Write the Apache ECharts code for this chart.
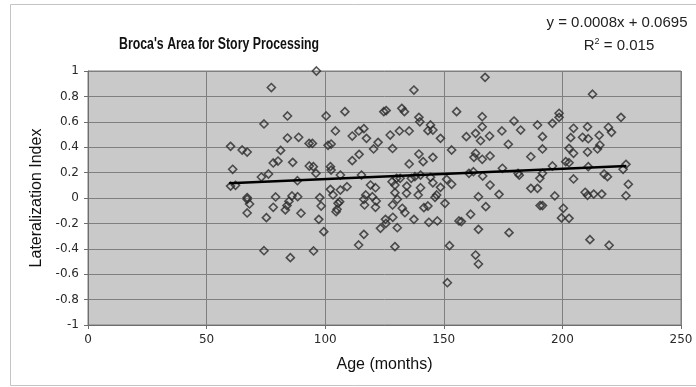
<!DOCTYPE html>
<html>
<head>
<meta charset="utf-8">
<script src="https://cdn.jsdelivr.net/npm/echarts@6/dist/echarts.min.js"></script>
<style>
  html, body { margin: 0; padding: 0; background: #fff; }
  #chart { width: 696px; height: 387px; }
</style>
</head>
<body>
<div id="chart"></div>
<script>
// age (months), lateralization index
const scatterPoints = [
  [77.3,0.87],[84.1,0.646],[74.2,0.583],[84.1,0.472],[88.8,0.478],[60.1,0.407],[65,0.378],[67.1,0.362],
  [81.2,0.375],[78.1,0.276],[80.1,0.291],[86.3,0.281],[61,0.226],[76.1,0.189],[73.1,0.165],[60.1,0.094],
  [62.2,0.1],[88.3,0.136],[67.1,0.003],[79.1,0.008],[86,0.016],[88.4,0.01],
  [67.1,-0.01],[68.1,-0.047],[67.1,-0.118],[75.2,-0.155],[78.1,-0.073],[83.2,-0.094],[83.9,-0.06],
  [84.7,-0.026],[89.8,-0.12],[74.2,-0.415],[85.3,-0.47],
  [96.3,1.0],[137.4,0.85],[100.4,0.646],[108.3,0.68],[124.7,0.68],[125.7,0.688],[132.3,0.706],[133.4,0.68],
  [139.5,0.635],[139.9,0.6],[104.3,0.528],[111.4,0.488],[114.2,0.528],[116.3,0.546],[117.4,0.47],
  [122.3,0.438],[120.4,0.386],[127.4,0.496],[131.3,0.528],[135.4,0.528],[128.4,0.39],[93.2,0.43],
  [94.6,0.43],[101.2,0.415],[102.5,0.425],[111.4,0.294],[114.3,0.344],[135.4,0.268],[139.5,0.346],
  [93.3,0.252],[95,0.247],[96.1,0.194],[102.2,0.247],[102.5,0.22],[106.4,0.181],[115.3,0.181],
  [128.2,0.128],[130.1,0.155],[131.6,0.155],[136.3,0.155],[137.8,0.168],[119.1,0.102],[121.2,0.081],
  [129.4,0.102],[134.4,0.094],[102.2,0.068],[106.4,0.063],[109.2,0.089],[103.3,0.024],[97.7,0.003],
  [117.1,0.024],[119.9,0.01],[129.4,0.042],[134.3,0.037],[139.2,0.024],
  [98.3,-0.063],[97.3,-0.168],[99.4,-0.265],[95.1,-0.417],[106.1,-0.029],[105.4,-0.042],[105,-0.089],
  [104.6,-0.108],[116.3,-0.01],[116.6,-0.055],[121.5,-0.024],[121.2,-0.073],[130.4,-0.01],[128.4,-0.055],
  [132.5,-0.081],[133.6,-0.116],[137.4,-0.168],[128.5,-0.152],[125.4,-0.168],[125.6,-0.2],[123.3,-0.239],
  [130.4,-0.234],[116.3,-0.286],[114.1,-0.37],[129.4,-0.383],
  [167.4,0.95],[155.4,0.68],[144.4,0.575],[143.3,0.53],[145.4,0.535],[148.6,0.47],[166.2,0.64],
  [166.2,0.561],[163.4,0.509],[159.5,0.483],[169.3,0.488],[165.5,0.451],[174.5,0.528],[179.6,0.606],
  [182.4,0.535],[189.5,0.575],[177.2,0.423],[153.3,0.378],[141.3,0.286],[145.4,0.32],[162.7,0.32],
  [163.4,0.352],[166.2,0.305],[169.5,0.331],[186.7,0.325],[140.2,0.181],[144.4,0.163],[145.4,0.12],
  [151.2,0.147],[153.3,0.108],[148.6,0.084],[140.2,0.081],[160.6,0.194],[162.5,0.207],[166.4,0.173],
  [174.7,0.234],[181.3,0.194],[181.8,0.18],[169.5,0.102],[186.7,0.076],[189.5,0.076],[147,0.024],
  [146.3,0.005],[164.6,0.01],[173.3,0.029],
  [150.5,-0.042],[143.3,-0.063],[141.6,-0.076],[143.7,-0.191],[147.3,-0.181],[156.4,-0.181],
  [157.4,-0.186],[161.3,-0.128],[167.7,-0.068],[164.6,-0.247],[177.5,-0.273],[190.6,-0.06],
  [152.4,-0.375],[163.4,-0.449],[164.6,-0.52],[151.5,-0.667],
  [212.7,0.817],[198.6,0.667],[198.6,0.635],[224.7,0.635],[195.8,0.588],[204.7,0.549],[210.6,0.561],
  [219.4,0.557],[220.7,0.517],[215.5,0.494],[191.6,0.483],[203.5,0.475],[208.5,0.478],[210.9,0.467],
  [215.8,0.417],[214.8,0.386],[191.6,0.386],[202.8,0.391],[204.7,0.352],[210.6,0.362],[201.4,0.286],
  [202.8,0.278],[195.8,0.252],[210.9,0.247],[226.8,0.265],[225.6,0.226],[191.6,0.194],[190.5,0.155],
  [217.6,0.189],[219,0.168],[204.7,0.15],[227.8,0.108],[209.6,0.045],[210.6,0.021],[213.2,0.031],
  [216.6,0.031],[196.8,0.016],[226.8,0.018],
  [191.6,-0.06],[200.4,-0.081],[199.6,-0.157],[202.8,-0.16],[211.6,-0.328],[219.7,-0.372]
]

// linear trend line end points
const trendLine = [[59.5, 0.117], [227, 0.251]]

const titleText = "Broca's Area for Story Processing"
const equationText = 'y = 0.0008x + 0.0695'
const rSquaredText = 'R{sup|2} = 0.015'

let chart = echarts.init(document.getElementById('chart'))

let options = {
  backgroundColor: '#fff',
  animation: false,
  title: [
    {
      text: equationText,
      left: 612,
      top: 10,
      textAlign: 'center',
      textStyle: { fontFamily: 'Liberation Sans', fontWeight: 'normal', fontSize: 15, color: '#222' }
    },
    {
      text: rSquaredText,
      left: 614,
      top: 32,
      textAlign: 'center',
      textStyle: {
        fontFamily: 'Liberation Sans', fontWeight: 'normal', fontSize: 15, color: '#222',
        rich: { sup: { fontSize: 9, verticalAlign: 'top', padding: [0, 0, 8, 0], fontFamily: 'Liberation Sans', color: '#222' } }
      }
    }
  ],
  graphic: [
    {
      type: 'rect',
      shape: { x: 10.5, y: 4.5, width: 700, height: 381 },
      style: { fill: null, stroke: '#c4c4c4', lineWidth: 1 },
      silent: true
    },
    {
      // condensed bold title
      type: 'text',
      x: 119,
      y: 45,
      scaleX: 0.77,
      style: {
        text: titleText,
        font: 'bold 16px "Liberation Sans", Arial, sans-serif',
        fill: '#111',
        verticalAlign: 'middle'
      },
      silent: true
    }
  ],
  grid: {
    left: 88,
    top: 71,
    width: 593,
    height: 254,
    show: true,
    backgroundColor: '#c9c9c9',
    borderColor: '#7d7d7d',
    borderWidth: 1
  },
  xAxis: {
    type: 'value',
    min: 0,
    max: 250,
    interval: 50,
    name: 'Age (months)',
    nameLocation: 'middle',
    nameGap: 32,
    nameTextStyle: { fontFamily: 'Liberation Sans', fontSize: 16, color: '#111' },
    axisLine: { show: true, onZero: false, lineStyle: { color: '#6e6e6e' } },
    axisTick: { show: true, length: 4, lineStyle: { color: '#6e6e6e' } },
    axisLabel: { fontFamily: 'DejaVu Sans', fontSize: 12, color: '#2a2a2a', margin: 9 },
    splitLine: { show: true, lineStyle: { color: '#7f7f7f', width: 1 } }
  },
  yAxis: {
    type: 'value',
    min: -1,
    max: 1,
    interval: 0.2,
    name: 'Lateralization Index',
    nameLocation: 'middle',
    nameRotate: 90,
    nameGap: 42,
    nameTextStyle: { fontFamily: 'Liberation Sans', fontSize: 16, color: '#111' },
    axisLine: { show: true, onZero: false, lineStyle: { color: '#6e6e6e' } },
    axisTick: { show: true, length: 4, lineStyle: { color: '#6e6e6e' } },
    axisLabel: {
      fontFamily: 'DejaVu Sans', fontSize: 12, color: '#2a2a2a', margin: 9,
      formatter: v => String(Math.round(v * 10) / 10)
    },
    splitLine: { show: true, lineStyle: { color: '#7f7f7f', width: 1 } }
  },
  series: [
    {
      type: 'scatter',
      data: scatterPoints,
      symbol: 'diamond',
      symbolSize: 8,
      itemStyle: { color: 'rgba(0,0,0,0)', borderColor: '#2a2a2a', borderWidth: 1.6 },
      z: 3
    },
    {
      type: 'line',
      data: trendLine,
      symbol: 'none',
      lineStyle: { color: '#000', width: 2.5 },
      z: 4
    }
  ]
}
options && chart.setOption(options)
</script>
</body>
</html>
